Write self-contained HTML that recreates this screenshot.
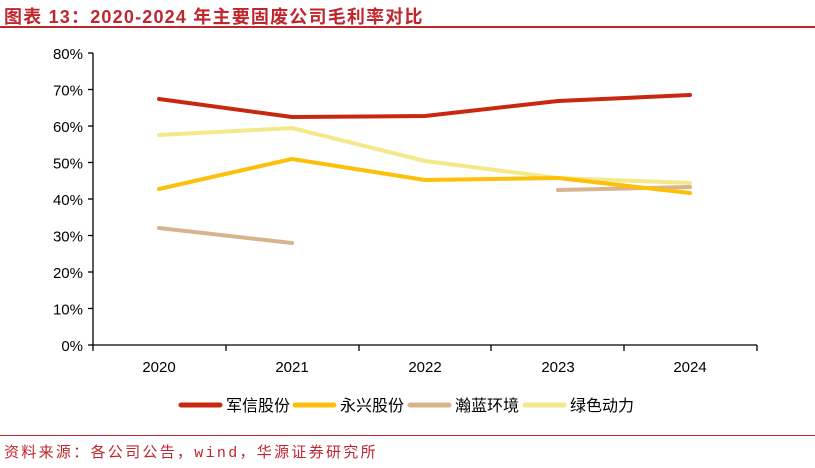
<!DOCTYPE html>
<html><head><meta charset="utf-8"><style>
body{margin:0;background:#fff;width:815px;height:468px;overflow:hidden;position:relative;font-family:"Liberation Sans","Noto Sans CJK SC",sans-serif}
.t{position:absolute;left:4px;top:3px;font-size:18px;font-weight:bold;color:#c0262d;font-family:"Liberation Sans","Noto Sans CJK SC",sans-serif;letter-spacing:1.2px}
.f{position:absolute;left:4px;top:441px;font-size:15px;color:#c0262d;font-family:"Liberation Mono","Noto Sans CJK SC",monospace;letter-spacing:2.3px}
</style></head><body>
<div class="t">图表 13：2020-2024 年主要固废公司毛利率对比</div>
<div style="position:absolute;left:0;top:26px;width:815px;height:2px;background:#c0262d"></div>
<div style="position:absolute;left:0;top:435px;width:815px;height:1px;background:#c0262d"></div>
<div class="f">资料来源：各公司公告，wind，华源证券研究所</div>
<svg width="815" height="468" style="position:absolute;left:0;top:0" font-family="Liberation Sans, Noto Sans CJK SC, sans-serif">
<g stroke="#000" stroke-width="1.3" fill="none">
<line x1="93" y1="53" x2="93" y2="345"/><line x1="92" y1="345" x2="757" y2="345"/>
<g>
<line x1="88" y1="53" x2="93" y2="53"/><line x1="88" y1="89.5" x2="93" y2="89.5"/><line x1="88" y1="126" x2="93" y2="126"/><line x1="88" y1="162.5" x2="93" y2="162.5"/><line x1="88" y1="199" x2="93" y2="199"/><line x1="88" y1="235.5" x2="93" y2="235.5"/><line x1="88" y1="272" x2="93" y2="272"/><line x1="88" y1="308.5" x2="93" y2="308.5"/><line x1="88" y1="345" x2="93" y2="345"/>
<line x1="93" y1="345" x2="93" y2="351"/><line x1="226" y1="345" x2="226" y2="351"/><line x1="359" y1="345" x2="359" y2="351"/><line x1="491" y1="345" x2="491" y2="351"/><line x1="624" y1="345" x2="624" y2="351"/><line x1="757" y1="345" x2="757" y2="351"/>
</g></g>
<g font-size="15" fill="#000" text-anchor="end">
<text x="83" y="59">80%</text><text x="83" y="95.5">70%</text><text x="83" y="132">60%</text><text x="83" y="168.5">50%</text><text x="83" y="205">40%</text><text x="83" y="241.5">30%</text><text x="83" y="278">20%</text><text x="83" y="314.5">10%</text><text x="83" y="351">0%</text>
</g>
<g font-size="15" fill="#000" text-anchor="middle">
<text x="159" y="372">2020</text><text x="292" y="372">2021</text><text x="425" y="372">2022</text><text x="558" y="372">2023</text><text x="690" y="372">2024</text>
</g>
<g fill="none" stroke-width="4" stroke-linejoin="round" stroke-linecap="round">
<polyline stroke="#f3e88a" points="159,135 292,128 425,161 558,178 690,183"/>
<polyline stroke="#d8b48e" points="159,228 292,243"/>
<polyline stroke="#d8b48e" points="558,190 690,187"/>
<polyline stroke="#fdc00a" points="159,189 292,159 425,180 558,178 690,193"/>
<polyline stroke="#c8280f" points="159,99 292,117 425,116 558,101 690,95"/>
</g>
<g stroke-width="5" stroke-linecap="round">
<line x1="181" y1="405" x2="220" y2="405" stroke="#c8280f"/>
<line x1="295" y1="405" x2="334" y2="405" stroke="#fdc00a"/>
<line x1="410" y1="405" x2="449" y2="405" stroke="#d8b48e"/>
<line x1="525" y1="405" x2="564" y2="405" stroke="#f3e88a"/>
</g>
<g font-size="16" fill="#000">
<text x="226" y="411">军信股份</text><text x="340" y="411">永兴股份</text><text x="455" y="411">瀚蓝环境</text><text x="570" y="411">绿色动力</text>
</g>
</svg>
</body></html>
